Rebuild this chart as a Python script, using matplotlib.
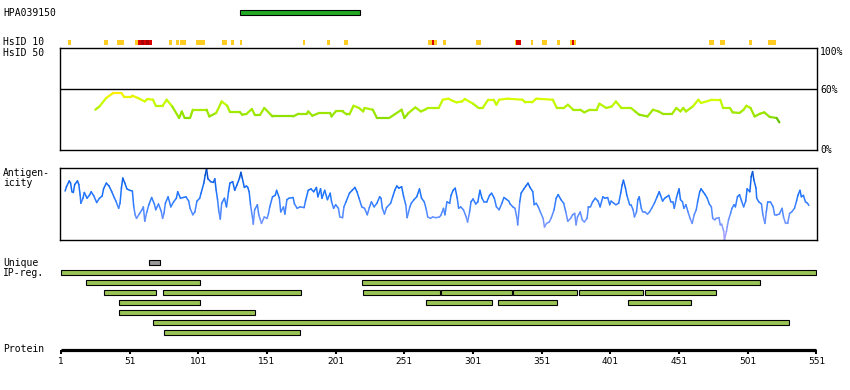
import numpy as np
import matplotlib
matplotlib.use('Agg')
import matplotlib.pyplot as plt
from matplotlib.collections import LineCollection
from matplotlib.colors import LinearSegmentedColormap
from matplotlib.patches import Rectangle

# ---- data ----
protein_len = 551
tick_pos = [1, 51, 101, 151, 201, 251, 301, 351, 401, 451, 501, 551]
antibody = 'HPA039150'
antigen_start, antigen_end = 131, 219

# HsID 10 marks: start, end, level (0 = low, 1 = high, 2 = highest)
hsid10_start = [6, 32, 42, 55, 57, 59, 61.4, 63, 65, 80, 85, 88, 99, 118, 125, 131, 177, 195,
                207, 268, 271, 272.5, 279, 303, 331.5, 332.5, 343, 351, 362, 371.5, 373, 374.3,
                473, 481, 502, 516]
hsid10_end = [8, 35, 47, 57, 59, 61.4, 63, 65, 67, 82, 87, 92, 106, 122, 127, 133, 179, 197,
              210, 271, 272.5, 275, 281.5, 306.5, 332.5, 336, 344.5, 354.5, 364, 373, 374.3, 376,
              476.5, 484.5, 504, 521.5]
hsid10_level = [0, 0, 0, 0, 1, 2, 1, 2, 1, 0, 0, 0, 0, 0, 0, 0, 0, 0,
                0, 0, 1, 0, 0, 0, 0, 1, 0, 0, 0, 0, 1, 0,
                0, 0, 0, 0]

# HsID 50 (% identity)
hsid50_pos = [26, 29, 34, 39, 45, 47, 52, 53, 57, 62,
              64, 68, 70, 75, 78, 82, 87, 89, 91, 95,
              97, 107, 109, 114, 118, 122, 124, 131, 133, 136,
              140, 142, 146, 149, 155, 170, 174, 180, 181, 184,
              189, 197, 198, 201, 206, 209, 211, 214, 218, 221,
              222, 228, 231, 240, 249, 251, 254, 259, 263, 266,
              268, 276, 279, 283, 286, 289, 293, 295, 301, 305,
              308, 312, 316, 318, 320, 326, 337, 339, 344, 347,
              359, 362, 367, 370, 374, 379, 382, 386, 391, 393,
              398, 402, 405, 409, 416, 419, 422, 428, 432, 436,
              439, 446, 449, 452, 454, 456, 461, 465, 467, 475,
              481, 483, 488, 490, 495, 498, 500, 503, 506, 510,
              513, 517, 522, 524]
hsid50_val = [39.5, 42.7, 51, 55.9, 55.9, 52, 52, 53.2, 51, 47.6,
              50, 49.3, 43.4, 43.4, 49.3, 42.7, 31.4, 37.8, 31.4, 31.4,
              39.5, 39.5, 32.9, 36.3, 47.6, 43.4, 37.3, 37.3, 34.6, 35.3,
              40.2, 34.6, 34.6, 41.2, 32.9, 32.9, 35.6, 35.6, 37.8, 33.6,
              36.3, 36.3, 32.9, 37.8, 37.8, 34.9, 34.9, 43.4, 41.2, 37.8,
              41.2, 39.5, 31.4, 31.4, 39.5, 31.4, 36.3, 41.8, 37.8, 39.5,
              41.2, 41.2, 49.3, 50.3, 48.3, 46.7, 47.6, 50, 45.4, 41.2,
              41.2, 49.3, 49.3, 44.4, 49.3, 50.3, 49.3, 46.7, 46.7, 50.3,
              49.3, 41.2, 41.2, 44.4, 39.5, 39.5, 36.9, 39.5, 39.5, 45.4,
              41.2, 42.7, 47.6, 41.2, 41.2, 37.8, 34.6, 32.9, 39.5, 37.8,
              35.6, 35.6, 41.2, 37.8, 41.2, 37.8, 42.7, 49.3, 46.1, 49.3,
              49.3, 41.2, 41.2, 36.9, 36.3, 39.5, 43.4, 41.2, 32.9, 35.6,
              36.9, 32.4, 31.4, 27.1]

# Antigenicity score (relative, 0-100)
antig_pos = [4, 5, 7, 8, 9, 10, 11, 13, 14, 15,
             15.5, 17, 18, 20, 22, 23, 25, 27, 29, 31,
             32, 34, 36, 38, 40, 41, 43, 44, 45, 46,
             47.5, 49, 51, 53, 54, 55, 56, 58, 60, 61,
             62, 63.5, 65, 67, 69, 70, 72, 74, 75, 76,
             77, 79, 81, 83, 85, 86, 88, 90, 92, 94,
             95, 97, 98.5, 100, 102, 103, 105, 106, 107, 108,
             110, 112, 113, 114, 115, 116, 117, 118, 120, 121.5,
             123, 124, 126, 127.5, 129, 131, 132, 133, 134.5, 136,
             137, 138, 139, 140.5, 141, 142, 144, 145, 146, 147,
             149, 151, 152, 153, 155, 157, 158, 160, 161, 163,
             164, 165.5, 167, 170, 171, 173, 175, 178, 179, 181,
             183, 185, 187, 188, 190, 191, 193, 195, 197, 198,
             199.5, 201, 203, 204, 206, 207, 208.5, 211, 213, 215,
             216.5, 218, 220, 222, 224, 225.5, 227, 229, 231, 233,
             234, 235, 236.5, 238, 241, 242.5, 244, 245.5, 247, 249,
             250.5, 252, 253, 255, 256, 258, 260, 262, 263.5, 265.5,
             267, 268, 270, 271.5, 274, 276.5, 277.5, 279.5, 280.5, 282,
             284, 285, 286.5, 288, 289.5, 290.5, 292, 294, 296, 297,
             298.5, 299.5, 301, 303, 304.5, 306, 307.5, 309, 311, 313,
             314.5, 316.5, 318, 320, 322, 323.5, 325, 327, 328, 330,
             331.5, 333, 333.5, 335, 336, 338, 339.5, 341, 342.5, 344.5,
             345.5, 347, 348.5, 350, 352, 353, 354.5, 356.5, 358, 360,
             361.5, 363, 365, 367, 368.5, 370, 372, 373.5, 375, 376,
             377, 379, 380.5, 382, 384, 385, 386.5, 388, 390, 392,
             393.5, 395.5, 397, 399, 400.5, 401.5, 403.5, 405, 407, 408.5,
             409.5, 410.5, 412, 413, 415, 416, 417.5, 418.5, 420, 421,
             422, 423.5, 424.5, 426, 428, 429.5, 431, 433, 435, 436.5,
             437.5, 439, 440.5, 442, 443.5, 445, 446.5, 447.5, 449, 450,
             451, 452, 453.5, 454.5, 456, 457.5, 459, 460.5, 462, 463.5,
             464.5, 466, 467, 468.5, 470, 471.5, 473, 474.5, 475.5, 477,
             478, 480, 481, 482, 483.5, 484, 485.5, 486, 487, 488.5,
             489.5, 491, 492, 493.5, 495, 496.5, 498, 499.5, 500.5, 502.5,
             503.5, 504.5, 505.5, 507, 507.5, 509, 511, 512, 513.5, 514.5,
             515.5, 517.5, 519.5, 520.5, 522, 524, 526, 527, 528.5, 530,
             531.5, 533, 535, 536.5, 537.5, 539, 540, 541.5, 543, 544.5,
             545.5]
antig_val = [68, 74, 82, 79, 67, 66, 77, 82, 77, 62,
             51, 58, 66, 58, 63, 67, 61, 52, 58, 61,
             71, 79, 75, 67, 58, 54, 44, 51, 72, 86,
             79, 71, 69, 68, 46, 35, 30, 36, 42, 46,
             26, 39, 49, 59, 50, 42, 50, 40, 30, 37,
             51, 60, 46, 53, 58, 67, 58, 59, 60, 54,
             44, 35, 39, 54, 58, 65, 79, 90, 99, 85,
             81, 80, 85, 69, 56, 39, 29, 51, 58, 46,
             67, 79, 81, 69, 76, 86, 94, 86, 73, 75,
             73, 67, 49, 30, 22, 42, 49, 35, 29, 23,
             32, 30, 36, 46, 60, 62, 69, 58, 39, 46,
             36, 56, 58, 59, 50, 44, 46, 45, 54, 69,
             71, 67, 73, 60, 71, 58, 69, 56, 65, 53,
             44, 49, 44, 32, 31, 46, 53, 65, 69, 73,
             67, 58, 46, 44, 35, 45, 53, 46, 51, 60,
             58, 44, 36, 45, 51, 60, 69, 75, 72, 74,
             60, 49, 31, 46, 51, 56, 60, 71, 58, 53,
             42, 32, 30, 32, 31, 32, 34, 44, 35, 53,
             51, 62, 69, 72, 58, 44, 46, 42, 32, 25,
             39, 53, 57, 50, 53, 69, 58, 53, 53, 62,
             65, 58, 46, 42, 51, 59, 57, 54, 50, 46,
             44, 30, 21, 53, 65, 71, 75, 79, 73, 67,
             49, 51, 46, 39, 30, 18, 23, 25, 31, 42,
             58, 63, 56, 51, 39, 26, 30, 35, 37, 21,
             32, 39, 28, 25, 30, 46, 46, 53, 58, 54,
             46, 60, 58, 59, 49, 54, 51, 49, 51, 65,
             76, 83, 72, 62, 49, 49, 42, 32, 39, 56,
             60, 44, 39, 39, 36, 39, 44, 51, 60, 67,
             62, 54, 58, 60, 62, 53, 53, 44, 58, 65,
             71, 56, 53, 44, 49, 39, 30, 23, 35, 42,
             53, 67, 71, 67, 63, 58, 50, 46, 30, 28,
             30, 31, 21, 22, 12, 0, 12, 18, 28, 37,
             44, 49, 46, 60, 63, 54, 46, 54, 71, 67,
             88, 95, 83, 72, 58, 53, 50, 35, 23, 39,
             53, 53, 46, 35, 35, 36, 44, 32, 23, 23,
             37, 39, 44, 54, 62, 69, 60, 62, 53, 51,
             48]

# unique region and IP-reg. fragments (row 0 = top row)
unique_start, unique_end = 65, 73
ipreg_start = [1, 19, 220, 32, 75, 221, 278, 330, 378, 426, 43, 267, 319, 414, 43, 68, 76]
ipreg_end = [551, 102, 510, 70, 176, 277, 329, 377, 425, 478, 102, 315, 362, 460, 142, 531, 175]
ipreg_row = [0, 1, 1, 2, 2, 2, 2, 2, 2, 2, 3, 3, 3, 3, 4, 5, 6]

assert len(hsid50_pos) == len(hsid50_val)
assert len(antig_pos) == len(antig_val)

# ---- layout (pixels) ----
W, H = 850, 390
X0, X1 = 60, 817
XLIM = (0.3, 551.4)
mono = 'DejaVu Sans Mono'

fig = plt.figure(figsize=(W / 100, H / 100), dpi=100)
fig.patch.set_facecolor('white')


def px_axes(x0, y0, x1, y1):
    return fig.add_axes([x0 / W, 1 - y1 / H, (x1 - x0) / W, (y1 - y0) / H])


def label(x, y, s, **kw):
    fig.text(x / W, 1 - y / H, s, fontsize=7, family=mono, va='center', **kw)


def colored_line(ax, x, y, cmap, lw):
    x = np.asarray(x, float)
    y = np.asarray(y, float)
    seg = np.stack([np.column_stack([x[:-1], y[:-1]]),
                    np.column_stack([x[1:], y[1:]])], axis=1)
    lc = LineCollection(seg, colors=cmap((y[:-1] + y[1:]) / 200), lw=lw,
                        capstyle='round', joinstyle='round')
    lc.set_clip_on(False)
    ax.add_collection(lc)


# track axes for bars / marks / protein axis
track = px_axes(X0, 0, X1, H)
track.set_xlim(*XLIM)
track.set_ylim(H, 0)
track.axis('off')

# antibody antigen bar
track.add_patch(Rectangle((antigen_start, 10), antigen_end - antigen_start, 4.5,
                          fc='#22aa22', ec='black', lw=0.8))

# HsID 10
level_col = ['#ffcc22', '#dd0000', '#aa0000']
for s, e, lv in zip(hsid10_start, hsid10_end, hsid10_level):
    track.add_patch(Rectangle((s, 40), e - s, 4.7, fc=level_col[lv], ec='none'))

# unique + IP-reg
track.add_patch(Rectangle((unique_start, 260.3), unique_end - unique_start, 4.4,
                          fc='#999999', ec='black', lw=0.8))
for s, e, r in zip(ipreg_start, ipreg_end, ipreg_row):
    track.add_patch(Rectangle((s, 270.1 + 10 * r), e - s, 4.4,
                              fc='#99c455', ec='black', lw=0.8))

# protein axis
track.plot([1, protein_len], [349.5, 349.5], color='black', lw=2.3, solid_capstyle='butt')
track.vlines(tick_pos, 349.5, 353.5, color='black', lw=1.5)
for t in tick_pos:
    track.text(t, 361.5, str(t), fontsize=6.5, ha='center', va='center')

# HsID 50 panel
ax50 = px_axes(X0, 48, X1, 150)
ax50.set_xlim(*XLIM)
ax50.set_ylim(0, 100)
ax50.set_xticks([])
ax50.set_yticks([])
for sp in ax50.spines.values():
    sp.set_linewidth(1.0)
ax50.axhline(60, color='black', lw=1.0)
cmap50 = LinearSegmentedColormap.from_list('hs50', [
    (0.0, '#227700'), (0.27, '#44aa11'), (0.31, '#88dd00'), (0.40, '#aaee00'),
    (0.48, '#ccff00'), (0.56, '#ffee00'), (1.0, '#ffdd00')])
colored_line(ax50, hsid50_pos, hsid50_val, cmap50, 1.6)

# antigenicity panel
axa = px_axes(X0, 168, X1, 240)
axa.set_xlim(*XLIM)
axa.set_ylim(0, 100)
axa.set_xticks([])
axa.set_yticks([])
for sp in axa.spines.values():
    sp.set_linewidth(1.0)
cmapa = LinearSegmentedColormap.from_list('ag', [
    (0.0, '#b0a0ff'), (0.2, '#7f99ff'), (0.4, '#4d88ff'), (0.6, '#2277ff'),
    (0.8, '#1166ee'), (1.0, '#0044bb')])
colored_line(axa, antig_pos, antig_val, cmapa, 1.1)

# labels
label(3, 12.5, antibody)
label(3, 42.3, 'HsID 10')
label(3, 52.5, 'HsID 50')
label(3, 172.5, 'Antigen-')
label(3, 183, 'icity')
label(3, 262.5, 'Unique')
label(3, 272.5, 'IP-reg.')
label(3, 349.5, 'Protein')
label(820, 52, '100%')
label(820, 90, '60%')
label(820, 150.5, '0%')

fig.savefig('out.png', dpi=100)
